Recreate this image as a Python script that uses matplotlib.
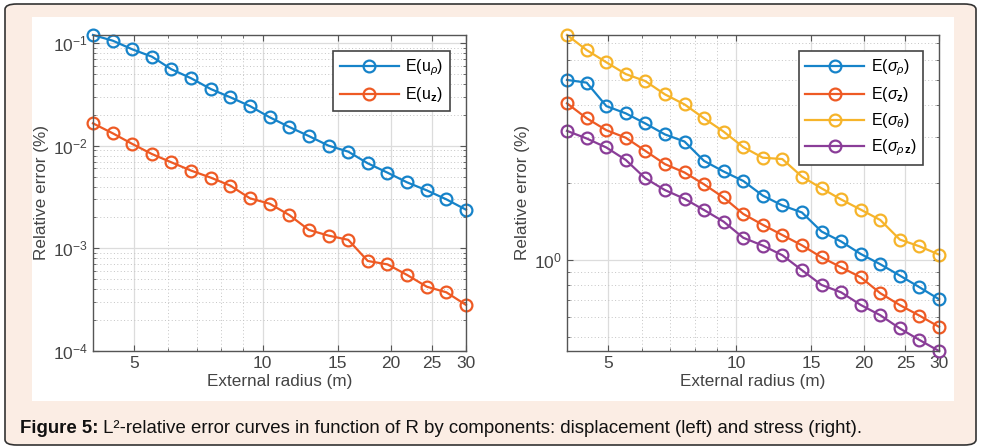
import numpy as np
import matplotlib
matplotlib.use("Agg")
import matplotlib.pyplot as plt
from matplotlib.patches import FancyBboxPatch, Rectangle
from matplotlib.ticker import LogLocator, NullFormatter, FixedLocator, FixedFormatter

plt.rcParams['font.family'] = ['Liberation Sans', 'DejaVu Sans']
plt.rcParams['mathtext.fontset'] = 'custom'
plt.rcParams['mathtext.rm'] = 'Liberation Sans'
plt.rcParams['mathtext.it'] = 'Liberation Sans:italic'
plt.rcParams['mathtext.bf'] = 'Liberation Sans:bold'

# external radius R (m)
radius = [4.00, 4.45, 4.95, 5.50, 6.11, 6.80, 7.56, 8.40, 9.34, 10.39,
          11.55, 12.84, 14.28, 15.88, 17.65, 19.63, 21.83, 24.27, 26.98, 30.00]

# displacement errors (%)
err_u_rho = [0.1197, 0.1054, 0.0867, 0.0736, 0.0555, 0.0453, 0.0356, 0.0296, 0.0243, 0.0189,
             0.0152, 0.0124, 0.0100, 0.00875, 0.00673, 0.00546, 0.00439, 0.00367, 0.00300, 0.00238]
err_u_z = [0.0165, 0.0132, 0.01038, 0.00829, 0.00688, 0.00571, 0.00488, 0.00408, 0.00307, 0.00272,
           0.00211, 0.00151, 0.00133, 0.00121, 0.000753, 0.000698, 0.000550, 0.000423, 0.000373, 0.000281]

# stress errors (%)
err_s_rho = [5.02, 4.90, 3.97, 3.72, 3.40, 3.08, 2.89, 2.43, 2.21, 2.03,
             1.78, 1.63, 1.53, 1.29, 1.18, 1.055, 0.962, 0.869, 0.783, 0.703]
err_s_z = [4.07, 3.56, 3.20, 2.99, 2.66, 2.36, 2.19, 1.97, 1.75, 1.51,
           1.37, 1.25, 1.14, 1.024, 0.936, 0.856, 0.742, 0.667, 0.607, 0.549]
err_s_theta = [7.51, 6.56, 5.88, 5.29, 4.97, 4.41, 4.03, 3.56, 3.16, 2.75,
               2.50, 2.47, 2.11, 1.90, 1.72, 1.57, 1.43, 1.20, 1.13, 1.049]
err_s_rhoz = [3.18, 2.97, 2.74, 2.45, 2.08, 1.87, 1.73, 1.565, 1.41, 1.22,
              1.137, 1.043, 0.912, 0.799, 0.748, 0.668, 0.609, 0.541, 0.488, 0.442]

xticks = [5, 10, 15, 20, 25, 30]
xticklabels = ['5', '10', '15', '20', '25', '30']

blue = '#1683c9'
orange = '#ee5a24'
yellow = '#f6b42a'
purple = '#8a3d98'

W, H = 981, 448
fig = plt.figure(figsize=(W / 100, H / 100), dpi=100)
fig.patch.set_facecolor('white')

# page decoration: peach rounded box + white chart area
box = FancyBboxPatch((5 / W, 3 / H), 971 / W, 441 / H,
                     boxstyle="round,pad=0,rounding_size=0.012",
                     transform=fig.transFigure, facecolor='#fbede4',
                     edgecolor='#333333', linewidth=1.2, zorder=-10)
fig.patches.append(box)
inner = Rectangle((32 / W, (H - 401) / H), 922 / W, 384 / H,
                  transform=fig.transFigure, facecolor='white',
                  edgecolor='none', zorder=-9)
fig.patches.append(inner)

ax1 = fig.add_axes([93 / W, (H - 351) / H, 373 / W, 316 / H])
ax2 = fig.add_axes([567 / W, (H - 351) / H, 372 / W, 316 / H])

style = dict(marker='o', markersize=8.5, markerfacecolor='none',
             markeredgewidth=1.6, linewidth=1.6, clip_on=False)

ax1.plot(radius, err_u_rho, color=blue, label=r'E(u$_{\rho}$)', **style)
ax1.plot(radius, err_u_z, color=orange, label=r'E(u$_{\mathbf{z}}$)', **style)

ax2.plot(radius, err_s_rho, color=blue, label=r'E($\sigma_{\rho}$)', **style)
ax2.plot(radius, err_s_z, color=orange, label=r'E($\sigma_{\mathbf{z}}$)', **style)
ax2.plot(radius, err_s_theta, color=yellow, label=r'E($\sigma_{\theta}$)', **style)
ax2.plot(radius, err_s_rhoz, color=purple, label=r'E($\sigma_{\rho\,\mathbf{z}}$)', **style)

ax1.set_ylim(1e-4, max(err_u_rho))
ax2.set_ylim(min(err_s_rhoz), max(err_s_theta))

for ax in (ax1, ax2):
    ax.set_xscale('log')
    ax.set_yscale('log')
    ax.set_xlim(4, 30)
    ax.xaxis.set_major_locator(FixedLocator(xticks))
    ax.xaxis.set_major_formatter(FixedFormatter(xticklabels))
    ax.xaxis.set_minor_locator(LogLocator(base=10, subs=np.arange(2, 10)))
    ax.xaxis.set_minor_formatter(NullFormatter())
    ax.yaxis.set_minor_locator(LogLocator(base=10, subs=np.arange(2, 10)))
    ax.yaxis.set_minor_formatter(NullFormatter())
    ax.grid(True, which='major', color='#dcdcdc', linewidth=0.9, linestyle='-')
    ax.grid(True, which='minor', color='#c4c4c4', linewidth=0.7, linestyle=(0, (1, 2.5)))
    ax.set_axisbelow(True)
    ax.tick_params(which='both', direction='in', top=True, right=True,
                   colors='#555555', labelcolor='#444444', labelsize=12.5)
    ax.tick_params(which='major', length=4, width=0.8)
    ax.tick_params(which='minor', length=2, width=0.6)
    for sp in ax.spines.values():
        sp.set_color('#555555')
        sp.set_linewidth(1.0)
    ax.set_xlabel('External radius (m)', fontsize=12.3, color='#444444', labelpad=2)
    ax.set_ylabel('Relative error (%)', fontsize=12.3, color='#444444', labelpad=3)

ax2.yaxis.set_major_locator(FixedLocator([1]))

leg1 = ax1.legend(loc='upper right', handlelength=3.7, fontsize=11.5,
                  fancybox=False, edgecolor='#444444', framealpha=1,
                  borderaxespad=1.0, labelspacing=0.45, handletextpad=0.4)
leg2 = ax2.legend(loc='upper right', handlelength=3.7, fontsize=11.5,
                  fancybox=False, edgecolor='#444444', framealpha=1,
                  borderaxespad=1.0, labelspacing=0.45, handletextpad=0.4)
for leg in (leg1, leg2):
    leg.get_frame().set_linewidth(1.2)

t1 = fig.text(20 / W, (H - 428) / H, 'Figure 5:', fontsize=13.4, fontweight='bold',
              color='#111111', va='center', ha='left')
ax2.annotate(' L\u00b2-relative error curves in function of R by components: '
             'displacement (left) and stress (right).',
             xy=(1, 0), xycoords=t1, va='bottom', ha='left', fontsize=13.4,
             color='#111111', annotation_clip=False)

fig.savefig('out.png', dpi=100)
